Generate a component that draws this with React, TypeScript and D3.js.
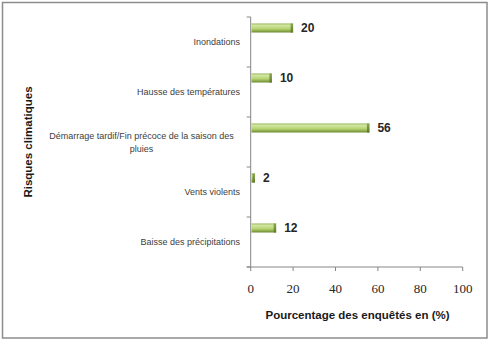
import React from "react";
import * as d3 from "d3";

const categories: string[] = [
  "Inondations",
  "Hausse des températures",
  "Démarrage tardif/Fin précoce de la saison des pluies",
  "Vents violents",
  "Baisse des précipitations",
];
const categoryLines: string[][] = [
  ["Inondations"],
  ["Hausse des températures"],
  ["Démarrage tardif/Fin précoce de la saison des", "pluies"],
  ["Vents violents"],
  ["Baisse des précipitations"],
];
const values: number[] = [20, 10, 56, 2, 12];
const xTicks: number[] = [0, 20, 40, 60, 80, 100];
const xTitle = "Pourcentage des enquêtés en (%)";
const yTitle = "Risques climatiques";

const W = 489;
const H = 339;
const plotLeft = 250.7;
const plotRight = 462.7;
const plotTop = 17;
const plotBottom = 267;
const axisColor = "#868686";

export default function App() {
  const x = d3.scaleLinear().domain([0, 100]).range([plotLeft, plotRight]);
  const y = d3.scaleBand<string>().domain(categories).range([plotTop, plotBottom]);
  const bw = y.bandwidth();
  const barOff = bw * 0.13;
  const barH = bw * 0.18;
  const labelFont = "'Liberation Sans', Arial, sans-serif";

  return (
    <svg
      width={W}
      height={H}
      viewBox={`0 0 ${W} ${H}`}
      style={{ position: "absolute", left: 0, top: 0, background: "#fff" }}
    >
      <defs>
        <linearGradient id="barGrad" x1="0" y1="0" x2="0" y2="1">
          <stop offset="0%" stopColor="#8fae4f" />
          <stop offset="18%" stopColor="#d3e8a3" />
          <stop offset="60%" stopColor="#b6d272" />
          <stop offset="100%" stopColor="#6a8a30" />
        </linearGradient>
        <linearGradient id="capGrad" x1="0" y1="0" x2="0" y2="1">
          <stop offset="0%" stopColor="#8aa84e" />
          <stop offset="100%" stopColor="#5e7a2a" />
        </linearGradient>
      </defs>
      <rect x={2.5} y={2.5} width={484.5} height={335.5} fill="#fff" stroke="#8c8c8c" strokeWidth={1.5} />

      {/* bars */}
      {categories.map((c, i) => {
        const y0 = (y(c) as number) + barOff;
        const x0 = x(0) + 0.8;
        const x1 = x(values[i]);
        const w = Math.max(x1 - x0, 2);
        return (
          <g key={c}>
            <rect x={x0} y={y0} width={w} height={barH} fill="url(#barGrad)" />
            <rect x={x0 + w - 2.5} y={y0} width={2.5} height={barH} fill="url(#capGrad)" />
            <text
              x={x1 + 8}
              y={y0 + barH / 2}
              dominantBaseline="central"
              fontFamily={labelFont}
              fontWeight="bold"
              fontSize={12}
              fill="#262626"
            >
              {values[i]}
            </text>
          </g>
        );
      })}

      {/* y axis */}
      <line x1={x(0)} x2={x(0)} y1={plotTop} y2={plotBottom} stroke={axisColor} strokeWidth={1} />
      {[...categories.map((c) => y(c) as number), plotBottom].map((v, i) => (
        <line key={i} x1={x(0) - 4} x2={x(0)} y1={v} y2={v} stroke={axisColor} strokeWidth={1} />
      ))}
      {categories.map((c, i) => {
        const cy = (y(c) as number) + bw / 2;
        const lines = categoryLines[i];
        const lh = 13;
        if (lines.length === 1) {
          return (
            <text
              key={c}
              x={240}
              y={cy}
              textAnchor="end"
              dominantBaseline="central"
              fontFamily={labelFont}
              fontSize={9}
              fill="#404040"
            >
              {lines[0]}
            </text>
          );
        }
        return (
          <text key={c} fontFamily={labelFont} fontSize={9} fill="#404040" textAnchor="middle">
            {lines.map((l, j) => (
              <tspan
                key={j}
                x={141.5}
                y={cy - ((lines.length - 1) * lh) / 2 + j * lh}
                dominantBaseline="central"
              >
                {l}
              </tspan>
            ))}
          </text>
        );
      })}

      {/* x axis */}
      <line x1={x(0) - 4} x2={plotRight} y1={plotBottom} y2={plotBottom} stroke={axisColor} strokeWidth={1} />
      {xTicks.map((t) => (
        <g key={t}>
          <line x1={x(t)} x2={x(t)} y1={plotBottom} y2={plotBottom + 4} stroke={axisColor} strokeWidth={1} />
          <text
            x={x(t)}
            y={288.5}
            textAnchor="middle"
            dominantBaseline="central"
            fontFamily="'Liberation Serif', 'Times New Roman', serif"
            fontSize={13}
            fill="#262626"
          >
            {t}
          </text>
        </g>
      ))}

      {/* titles */}
      <text
        x={357.5}
        y={315}
        textAnchor="middle"
        dominantBaseline="central"
        fontFamily={labelFont}
        fontWeight="bold"
        fontSize={11.5}
        fill="#1a1a1a"
      >
        {xTitle}
      </text>
      <text
        transform={`translate(28, ${(plotTop + plotBottom) / 2}) rotate(-90)`}
        textAnchor="middle"
        dominantBaseline="central"
        fontFamily={labelFont}
        fontWeight="bold"
        fontSize={11.5}
        fill="#1a1a1a"
      >
        {yTitle}
      </text>
    </svg>
  );
}
